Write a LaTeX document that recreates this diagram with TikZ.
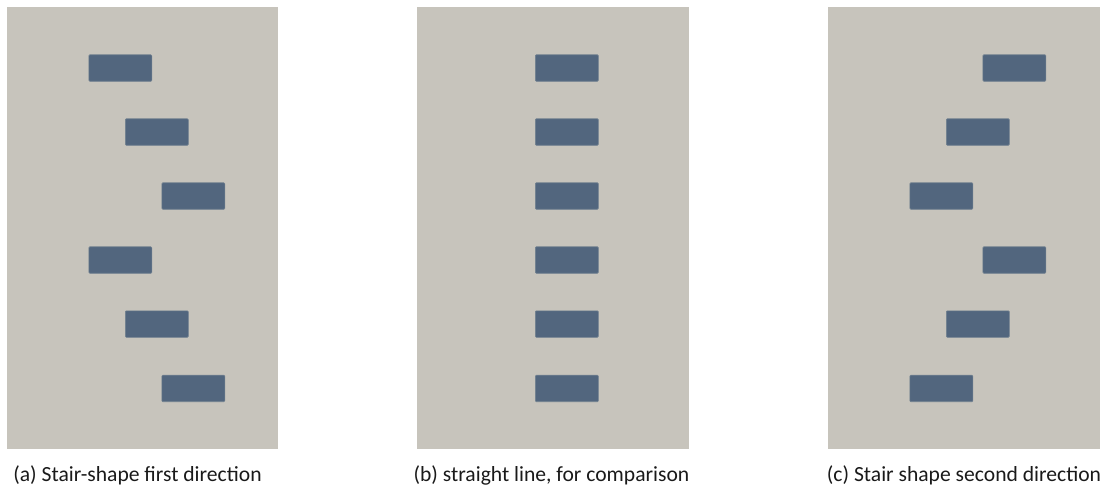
\documentclass[tikz,border=0pt]{standalone}
\usepackage{fontspec}
\setmainfont{Carlito}
\definecolor{panelbg}{HTML}{C7C4BC}
\definecolor{blockfill}{HTML}{52667E}
\definecolor{blockedge}{HTML}{70808F}
\definecolor{captext}{HTML}{1A1A1A}
\begin{document}
\begin{tikzpicture}[x=1pt,y=-1pt,
  panel/.style={fill=panelbg,draw=none},
  blk/.style={fill=blockfill,draw=blockedge,line width=0.7pt,rounded corners=1pt,
    minimum width=63pt,minimum height=26.5pt,inner sep=0pt,anchor=north west},
  caption/.style={text=captext,font=\fontsize{21.6}{24}\selectfont,anchor=base,inner sep=0pt}]
\useasboundingbox (0,0) rectangle (1109,489);
% panel backgrounds
\fill[panel] (7,7) rectangle (278,449);
\fill[panel] (417,7) rectangle (689,449);
\fill[panel] (828,7) rectangle (1100,449);
% (a) stair shape, first direction
\node[blk] (a1) at (88.5,54.5) {};
\node[blk] (a2) at (125,118.5) {};
\node[blk] (a3) at (161.5,182.5) {};
\node[blk] (a4) at (88.5,246.5) {};
\node[blk] (a5) at (125,310.5) {};
\node[blk] (a6) at (161.5,374.8) {};
% (b) straight line
\node[blk] (b1) at (535,54.5) {};
\node[blk] (b2) at (535,118.5) {};
\node[blk] (b3) at (535,182.5) {};
\node[blk] (b4) at (535,246.5) {};
\node[blk] (b5) at (535,310.5) {};
\node[blk] (b6) at (535,374.8) {};
% (c) stair shape, second direction
\node[blk] (c1) at (982.5,54.5) {};
\node[blk] (c2) at (946,118.5) {};
\node[blk] (c3) at (909.5,182.5) {};
\node[blk] (c4) at (982.5,246.5) {};
\node[blk] (c5) at (946,310.5) {};
\node[blk] (c6) at (909.5,374.8) {};
% captions
\node[caption] (la) at (137.5,481) {(a) Stair-shape first direction};
\node[caption] (lb) at (551.5,481) {(b) straight line, for comparison};
\node[caption] (lc) at (964,481) {(c) Stair shape second direction};
\end{tikzpicture}
\end{document}
